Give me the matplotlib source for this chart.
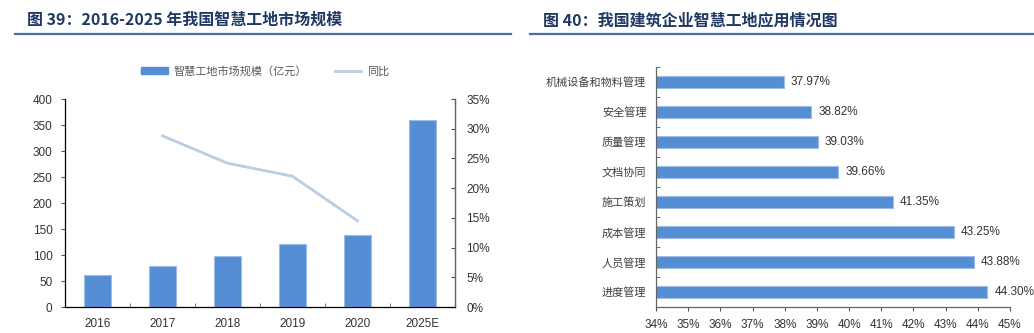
import matplotlib
matplotlib.use("Agg")
import matplotlib.pyplot as plt
from matplotlib.lines import Line2D
from matplotlib.patches import Patch
import numpy as np

plt.rcParams["font.family"] = ["Noto Sans CJK SC", "DejaVu Sans"]

# left chart data
years = ["2016", "2017", "2018", "2019", "2020", "2025E"]
market_size = [61, 78, 99, 121, 138, 360]          # 亿元
yoy_years = ["2017", "2018", "2019", "2020"]
yoy_pct = [28.8, 24.2, 22.0, 14.5]                  # %

# right chart data (bottom to top)
apps = ["进度管理", "人员管理", "成本管理", "施工策划",
        "文档协同", "质量管理", "安全管理", "机械设备和物料管理"]
app_pct = [44.30, 43.88, 43.25, 41.35, 39.66, 39.03, 38.82, 37.97]

BAR = "#558ED5"
BAR_EDGE = "#9DBCE6"
LINE = "#B9CDE5"
TITLE = "#1F3864"
RULE = "#4A6EA8"
TXT = "#404040"
NUM = "Liberation Sans"

W, H = 1034, 333
fig = plt.figure(figsize=(W / 100, H / 100), dpi=100)


def fx(px):
    return px / W


def fy(px):
    return 1 - px / H


# titles and rules
fig.text(fx(27), fy(20), "图 39：2016-2025 年我国智慧工地市场规模", fontsize=11.5,
         fontweight="bold", color=TITLE, va="center", ha="left")
fig.text(fx(543), fy(20), "图 40：我国建筑企业智慧工地应用情况图", fontsize=11.5,
         fontweight="bold", color=TITLE, va="center", ha="left")
fig.add_artist(Line2D([fx(15), fx(511)], [fy(34), fy(34)], color=RULE, lw=1.6))
fig.add_artist(Line2D([fx(530), fx(1034)], [fy(34), fy(34)], color=RULE, lw=1.6))

# ---- left chart ----
ax = fig.add_axes([fx(65), fy(307), fx(390), (307 - 99) / H])
x = np.arange(len(years))
ax.bar(x, market_size, width=0.41, color=BAR, edgecolor=BAR_EDGE, linewidth=0.8, zorder=2)
ax.set_xlim(-0.5, len(years) - 0.5)
ax.set_ylim(0, 400)
ax.set_yticks(np.arange(0, 401, 50))
ax.set_xticks(x)
ax.set_xticklabels(years)
ax.set_xticks(np.arange(0.5, len(years) - 1, 1), minor=True)
ax.tick_params(axis="x", which="major", length=0, pad=8)
ax.tick_params(axis="x", which="minor", direction="in", length=3, color="#555555")
ax.tick_params(axis="y", direction="out", length=3, color="#555555", pad=6)
for lab in ax.get_xticklabels() + ax.get_yticklabels():
    lab.set_fontfamily(NUM)
    lab.set_fontsize(8.5)
    lab.set_color("#333333")
ax.spines["top"].set_visible(False)
for s in ["left", "right", "bottom"]:
    ax.spines[s].set_color("#666666")
    ax.spines[s].set_linewidth(0.9)

ax2 = ax.twinx()
xi = [years.index(y) for y in yoy_years]
ax2.plot(xi, yoy_pct, color=LINE, lw=2, zorder=3)
ax2.set_ylim(0, 35)
ax2.set_yticks(np.arange(0, 36, 5))
ax2.set_yticklabels([f"{v}%" for v in range(0, 36, 5)])
ax2.tick_params(axis="y", direction="in", length=3, color="#555555", pad=8)
for lab in ax2.get_yticklabels():
    lab.set_fontfamily(NUM)
    lab.set_fontsize(8.5)
    lab.set_color("#333333")
ax2.spines["top"].set_visible(False)
ax2.spines["right"].set_color("#666666")
ax2.spines["right"].set_linewidth(0.9)

handles = [Patch(facecolor=BAR, edgecolor=BAR), Line2D([0], [0], color=LINE, lw=2)]
fig.legend(handles, ["智慧工地市场规模（亿元）", "同比"], loc="center",
           bbox_to_anchor=(fx(265), fy(71)), ncol=2, frameon=False, fontsize=8,
           handlelength=2.4, handleheight=0.6, handletextpad=0.5,
           columnspacing=2.5, labelcolor="#595959")

# ---- right chart ----
bx = fig.add_axes([fx(656), fy(307), fx(354), (307 - 67) / H])
y = np.arange(len(apps))
bx.barh(y, app_pct, height=0.39, color=BAR, edgecolor=BAR_EDGE, linewidth=0.8, zorder=2)
bx.set_xlim(34, 45)
bx.set_ylim(-0.5, len(apps) - 0.5)
bx.set_xticks(np.arange(34, 46, 1))
bx.set_xticklabels([f"{v}%" for v in range(34, 46)])
bx.set_yticks(y)
bx.set_yticklabels(apps)
bx.set_yticks(np.arange(-0.5, len(apps), 1), minor=True)
bx.tick_params(axis="y", which="major", length=0, pad=7, labelsize=8, labelcolor=TXT)
bx.tick_params(axis="y", which="minor", direction="in", length=3, color="#555555")
bx.tick_params(axis="x", direction="out", length=3, color="#555555", pad=6)
for lab in bx.get_xticklabels():
    lab.set_fontfamily(NUM)
    lab.set_fontsize(8.5)
    lab.set_color("#333333")
for s in ["top", "right"]:
    bx.spines[s].set_visible(False)
for s in ["left", "bottom"]:
    bx.spines[s].set_color("#666666")
    bx.spines[s].set_linewidth(0.9)

for yi, v in zip(y, app_pct):
    bx.annotate(f"{v:.2f}%", (v, yi), xytext=(5, 0), textcoords="offset points",
                va="center", ha="left", fontsize=8.5, family=NUM, color="#333333")

fig.savefig("out.png", dpi=100)
